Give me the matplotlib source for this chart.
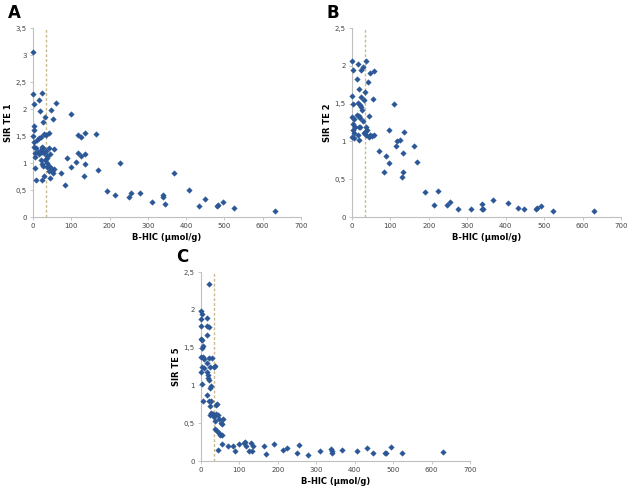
import matplotlib
matplotlib.use("Agg")
import matplotlib.pyplot as plt
from matplotlib.ticker import FuncFormatter

# Panel A: SIR TE 1 vs B-HIC
a_x = [0, 0, 3, 24, 16, 18, 31, 26, 47, 52, 60, 2, 3, 0, 3, 11, 15, 20, 28, 33, 43,
       2, 7, 6, 5, 13, 16, 20, 23, 23, 29, 33, 27, 37, 42, 44, 55, 20, 23, 27, 31,
       37, 37, 42, 48, 49, 52, 56, 42, 44, 29, 24, 5, 7, 36,
       72, 83, 89, 99, 99, 113, 117, 117, 125, 125, 132, 135, 137, 136, 164, 170,
       192, 215, 227, 250, 255, 279, 312, 340, 340, 344, 368, 408, 434, 448, 481,
       484, 495, 524, 633]
a_y = [3.06, 2.27, 2.09, 2.30, 2.16, 1.96, 1.85, 1.76, 1.98, 1.81, 2.11, 1.68, 1.61,
       1.50, 1.39, 1.42, 1.46, 1.49, 1.53, 1.52, 1.55, 1.30, 1.28, 1.18, 1.12, 1.21,
       1.16, 1.24, 1.30, 1.20, 1.18, 1.22, 1.27, 1.13, 1.28, 1.16, 1.26, 1.05, 0.99,
       0.95, 1.05, 1.00, 0.93, 0.95, 0.91, 0.85, 0.81, 0.88, 0.85, 0.73, 0.76, 0.68,
       0.90, 0.68, 1.10,
       0.81, 0.59, 1.10, 1.91, 0.92, 1.01, 1.52, 1.18, 1.49, 1.13, 0.76, 0.98, 1.55,
       1.16, 1.53, 0.87, 0.48, 0.41, 1.00, 0.37, 0.45, 0.45, 0.28, 0.41, 0.37, 0.25,
       0.82, 0.50, 0.20, 0.34, 0.20, 0.22, 0.28, 0.17, 0.11]

# Panel B: SIR TE 2 vs B-HIC
b_x = [0, 2, 16, 29, 37, 23, 46, 57, 14, 42, 19, 35, 24, 30, 55, 0, 2, 16, 21, 24,
       26, 43, 0, 5, 13, 17, 22, 29, 3, 8, 3, 17, 22, 36, 38, 33, 30, 5, 0, 5, 16,
       19, 37, 43, 48, 53, 56,
       70, 82, 88, 97, 97, 110, 114, 116, 124, 129, 132, 134, 135, 162, 168, 190,
       213, 225, 248, 254, 277, 309, 339, 338, 341, 367, 406, 432, 447, 479, 481,
       493, 522, 630]
b_y = [2.06, 1.94, 2.02, 1.99, 2.07, 1.94, 1.91, 1.93, 1.83, 1.78, 1.69, 1.65, 1.59,
       1.55, 1.56, 1.60, 1.49, 1.51, 1.48, 1.45, 1.42, 1.33, 1.32, 1.30, 1.35, 1.33,
       1.31, 1.27, 1.23, 1.19, 1.15, 1.19, 1.19, 1.19, 1.15, 1.12, 1.11, 1.11, 1.06,
       1.05, 1.08, 1.02, 1.09, 1.06, 1.08, 1.07, 1.08,
       0.87, 0.60, 0.81, 1.15, 0.72, 1.49, 0.94, 1.00, 1.02, 0.53, 0.60, 0.85, 1.13,
       0.94, 0.73, 0.33, 0.155, 0.35, 0.155, 0.20, 0.11, 0.10, 0.17, 0.11, 0.10,
       0.23, 0.19, 0.12, 0.10, 0.11, 0.12, 0.15, 0.08, 0.085]

# Panel C: SIR TE 5 vs B-HIC
c_x = [21, 0, 2, 1, 15, 16, 21, 1, 16, 0, 2, 4, 3, 0, 4, 20, 29, 7, 36, 34, 23, 0,
       3, 9, 15, 16, 18, 18, 22, 25, 24, 3, 16, 21, 25, 4, 23, 38, 42, 27, 24, 31,
       35, 39, 45, 37, 48, 58, 52, 55, 36, 42, 47, 50, 55, 45, 55,
       70, 83, 89, 99, 112, 115, 116, 125, 130, 134, 136, 163, 169, 191, 214, 225,
       249, 254, 278, 310, 338, 340, 342, 366, 407, 433, 448, 480, 482, 494, 522,
       631]
c_y = [2.34, 1.98, 1.95, 1.88, 1.89, 1.78, 1.77, 1.78, 1.67, 1.62, 1.60, 1.52, 1.49,
       1.37, 1.38, 1.36, 1.36, 1.35, 1.26, 1.24, 1.25, 1.18, 1.24, 1.23, 1.29, 1.18,
       1.14, 1.10, 1.07, 0.99, 0.96, 1.02, 0.87, 0.80, 0.79, 0.80, 0.73, 0.74, 0.75,
       0.63, 0.61, 0.62, 0.58, 0.62, 0.61, 0.53, 0.55, 0.56, 0.50, 0.49, 0.42, 0.40,
       0.37, 0.34, 0.34, 0.14, 0.22,
       0.20, 0.20, 0.13, 0.22, 0.24, 0.25, 0.20, 0.13, 0.24, 0.13, 0.20, 0.20, 0.09,
       0.22, 0.14, 0.17, 0.11, 0.21, 0.08, 0.13, 0.16, 0.11, 0.13, 0.14, 0.13, 0.17,
       0.10, 0.10, 0.10, 0.18, 0.10, 0.12]

cutoff = 35  # dashed reference line on B-HIC

W, H = 634, 491
fig = plt.figure(figsize=(W / 100, H / 100), dpi=100)

panels = [
    ("A", "SIR TE 1", a_x, a_y, 3.5, [33, 28, 301, 217]),
    ("B", "SIR TE 2", b_x, b_y, 2.5, [352, 28, 621, 217]),
    ("C", "SIR TE 5", c_x, c_y, 2.5, [201, 272, 470, 461]),
]

comma = FuncFormatter(lambda v, p: f"{v:g}".replace(".", ","))

for letter, ylabel, xs, ys, ymax, (l, t, r, b) in panels:
    ax = fig.add_axes([l / W, 1 - b / H, (r - l) / W, (b - t) / H])
    ax.axvline(cutoff, color="#C9B98C", linestyle=(0, (2, 1.5)), linewidth=1, zorder=1)
    ax.scatter(xs, ys, marker="D", s=8, color="#2B5797", edgecolors="#2B5797",
               linewidths=0.3, zorder=3, clip_on=False)
    ax.set_xlim(0, 700)
    ax.set_ylim(0, ymax)
    ax.set_xticks(range(0, 701, 100))
    ax.set_yticks([i * 0.5 for i in range(int(ymax / 0.5) + 1)])
    ax.yaxis.set_major_formatter(comma)
    for s in ["top", "right"]:
        ax.spines[s].set_visible(False)
    for s in ["left", "bottom"]:
        ax.spines[s].set_color("#BFBFBF")
        ax.spines[s].set_linewidth(0.8)
    ax.tick_params(labelsize=5, colors="#BFBFBF", labelcolor="#444444",
                   length=2.5, width=0.6, pad=2)
    ax.set_xlabel("B-HIC (µmol/g)", fontsize=6, fontweight="bold", labelpad=3)
    ax.set_ylabel(ylabel, fontsize=6, fontweight="bold", labelpad=2)
    fig.text((l - 25) / W, 1 - (t - 15) / H, letter, fontsize=12, fontweight="bold",
             ha="left", va="center")

fig.savefig("out.png", dpi=100)
